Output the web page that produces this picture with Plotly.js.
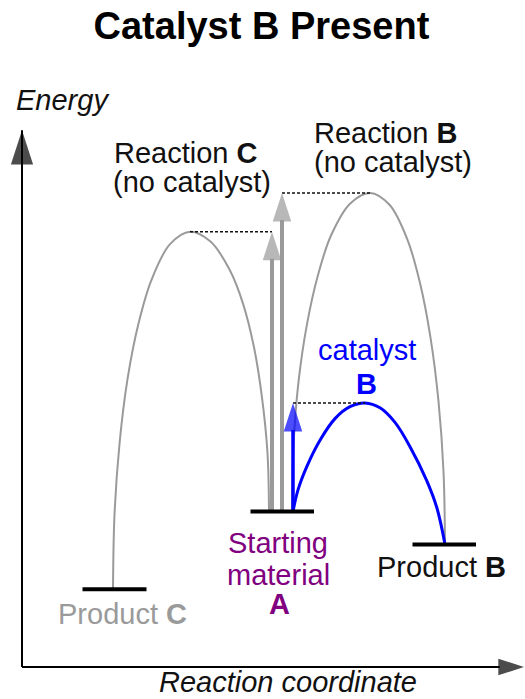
<!DOCTYPE html>
<html><head><meta charset="utf-8">
<script src="https://cdn.plot.ly/plotly-3.0.1.min.js"></script>
<style>html,body{margin:0;padding:0;background:#fff;overflow:hidden}</style>
</head><body><div id="chart" style="width:525px;height:699px"></div>
<script>
// ---- data (reaction coordinate, energy in arbitrary units) ----
const levelNames  = ["Product C", "Starting material A", "Product B"];
const levelStart  = [1.21, 4.57, 7.81];
const levelEnd    = [2.49, 5.84, 9.08];
const levelEnergy = [1.44, 2.88, 2.27];

// reaction C (no catalyst): Product C -> TS -> Starting material
const pathC_x = [1.82, 1.85, 1.95, 2.11, 2.33, 2.59, 2.96, 3.36, 3.77, 4.15, 4.42, 4.64, 4.80, 4.91, 4.94];
const pathC_E = [1.44, 2.82, 4.13, 5.33, 6.36, 7.17, 7.83, 8.06, 7.88, 7.36, 6.73, 5.92, 4.99, 3.96, 2.88];
// reaction B (no catalyst): Starting material -> TS -> Product B
const pathB_x = [5.40, 5.43, 5.53, 5.70, 5.92, 6.18, 6.56, 6.96, 7.35, 7.71, 7.96, 8.17, 8.33, 8.43, 8.46];
const pathB_E = [2.88, 4.11, 5.28, 6.35, 7.26, 7.99, 8.58, 8.78, 8.56, 7.91, 7.11, 6.10, 4.92, 3.62, 2.27];
// reaction B with catalyst B
const pathCat_x = [5.42, 5.52, 5.70, 5.96, 6.26, 6.56, 6.86, 7.16, 7.46, 7.76, 8.09, 8.30, 8.46];
const pathCat_E = [2.88, 3.28, 3.72, 4.20, 4.60, 4.82, 4.89, 4.80, 4.53, 4.08, 3.46, 2.94, 2.27];

// activation-energy arrows: [reaction C, reaction B, catalysed B]
const barrierNames = ["Reaction C", "Reaction B", "Catalyst B"];
const barrierX     = [5.00, 5.20, 5.42];
const barrierFrom  = [2.88, 2.88, 2.88];
const barrierTo    = [8.06, 8.78, 4.89];
const peakX        = [3.36, 6.96, 6.86];

// axis extents
const axisXmax = 10.04;
const axisYmax = 9.94;

// ---- styles ----
const F = "Liberation Sans, Arial, Helvetica, sans-serif";
const GRAY = "#9a9a9a", BLUE = "#0000ff", PURPLE = "#800080", INK = "#111111";
const barrierColor = [GRAY, GRAY, BLUE];
const barrierWidth = [4, 4, 3.5];
const barrierHead  = [30, 30, 30];

const traces = [];
// curves
traces.push({x: pathC_x, y: pathC_E, mode: "lines", line: {color: GRAY, width: 2, shape: "spline", smoothing: 1}});
traces.push({x: pathB_x, y: pathB_E, mode: "lines", line: {color: GRAY, width: 2, shape: "spline", smoothing: 1}});
traces.push({x: pathCat_x, y: pathCat_E, mode: "lines", line: {color: BLUE, width: 3, shape: "spline", smoothing: 1}});

// dotted guides from arrow tip to transition state
for (let i = 0; i < barrierX.length; i++) {
  traces.push({x: [Math.min(peakX[i], barrierX[i]), Math.max(peakX[i], barrierX[i])],
               y: [barrierTo[i], barrierTo[i]], mode: "lines",
               line: {color: INK, width: 1.5, dash: "3px,2px"}});
}
// barrier arrows
for (let i = 0; i < barrierX.length; i++) {
  traces.push({x: [barrierX[i], barrierX[i]], y: [barrierFrom[i], barrierTo[i]], mode: "lines+markers",
               line: {color: barrierColor[i], width: barrierWidth[i]},
               marker: {symbol: "arrow", size: [0, barrierHead[i]], color: barrierColor[i], angleref: "previous",
                        line: {width: 0}},
               cliponaxis: false});
}
// energy levels
for (let i = 0; i < levelEnergy.length; i++) {
  traces.push({x: [levelStart[i], levelEnd[i]], y: [levelEnergy[i], levelEnergy[i]], mode: "lines",
               line: {color: "#000", width: 4}});
}
// axes with arrowheads
traces.push({x: [0, 0], y: [0, axisYmax], mode: "lines+markers", line: {color: "#000", width: 2},
             marker: {symbol: "arrow", size: [0, 36], color: "#000", angleref: "previous", line: {width: 0}}, cliponaxis: false});
traces.push({x: [0, axisXmax], y: [0, 0], mode: "lines+markers", line: {color: "#000", width: 2},
             marker: {symbol: "arrow", size: [0, 27], color: "#000", angleref: "previous", line: {width: 0}}, cliponaxis: false});

function label(text, x, y, o) {
  return Object.assign({text: text, x: x, y: y, xref: "x", yref: "y", showarrow: false, borderpad: 0,
    xanchor: "center", yanchor: "middle", font: {family: F, size: 29, color: INK}}, o);
}
const smX = (levelStart[1] + levelEnd[1]) / 2;
const pbX = (levelStart[2] + levelEnd[2]) / 2;
const pcX = (levelStart[0] + levelEnd[0]) / 2;
const annotations = [
  label("<i>Energy</i>", 0, axisYmax, {xanchor: "left", xshift: -7, yshift: 30}),
  label("Reaction <b>C</b>", peakX[0], barrierTo[0], {xanchor: "left", xshift: -77, yshift: 79}),
  label("(no catalyst)", peakX[0], barrierTo[0], {xanchor: "left", xshift: -78, yshift: 50}),
  label("Reaction <b>B</b>", peakX[1], barrierTo[1], {xanchor: "left", xshift: -57, yshift: 60}),
  label("(no catalyst)", peakX[1], barrierTo[1], {xanchor: "left", xshift: -57, yshift: 31}),
  label("catalyst", peakX[2], barrierTo[2], {xshift: 2, yshift: 53, font: {family: F, size: 29, color: BLUE}}),
  label("<b>B</b>", peakX[2], barrierTo[2], {xshift: 1, yshift: 19, font: {family: F, size: 29, color: BLUE}}),
  label("Starting", smX, levelEnergy[1], {xshift: -4, yshift: -31.5, font: {family: F, size: 29, color: PURPLE}}),
  label("material", smX, levelEnergy[1], {xshift: -4, yshift: -63.5, font: {family: F, size: 29, color: PURPLE}}),
  label("<b>A</b>", smX, levelEnergy[1], {xshift: -3, yshift: -93, font: {family: F, size: 29, color: PURPLE}}),
  label("Product <b>B</b>", pbX, levelEnergy[2], {xshift: -3, yshift: -23}),
  label("Product <b>C</b>", pcX, levelEnergy[0], {xshift: 8, yshift: -25, font: {family: F, size: 29, color: GRAY}}),
  label("<i>Reaction coordinate</i>", 5.31, 0, {yshift: -15})
];

const layout = {
  width: 525, height: 699,
  margin: {l: 0, r: 0, t: 0, b: 0},
  paper_bgcolor: "#fff", plot_bgcolor: "#fff",
  showlegend: false,
  title: {text: "<b>Catalyst B Present</b>", x: 0.498, xanchor: "center", xref: "paper",
          y: 0.9635, yanchor: "middle", yref: "container",
          font: {family: F, size: 38, color: "#000"}},
  xaxis: {range: [-0.44, 10.06], visible: false, fixedrange: true},
  yaxis: {range: [-0.5926, 12.3519], visible: false, fixedrange: true},
  annotations: annotations
};
Plotly.newPlot("chart", traces, layout, {staticPlot: true, displayModeBar: false});
</script></body></html>
